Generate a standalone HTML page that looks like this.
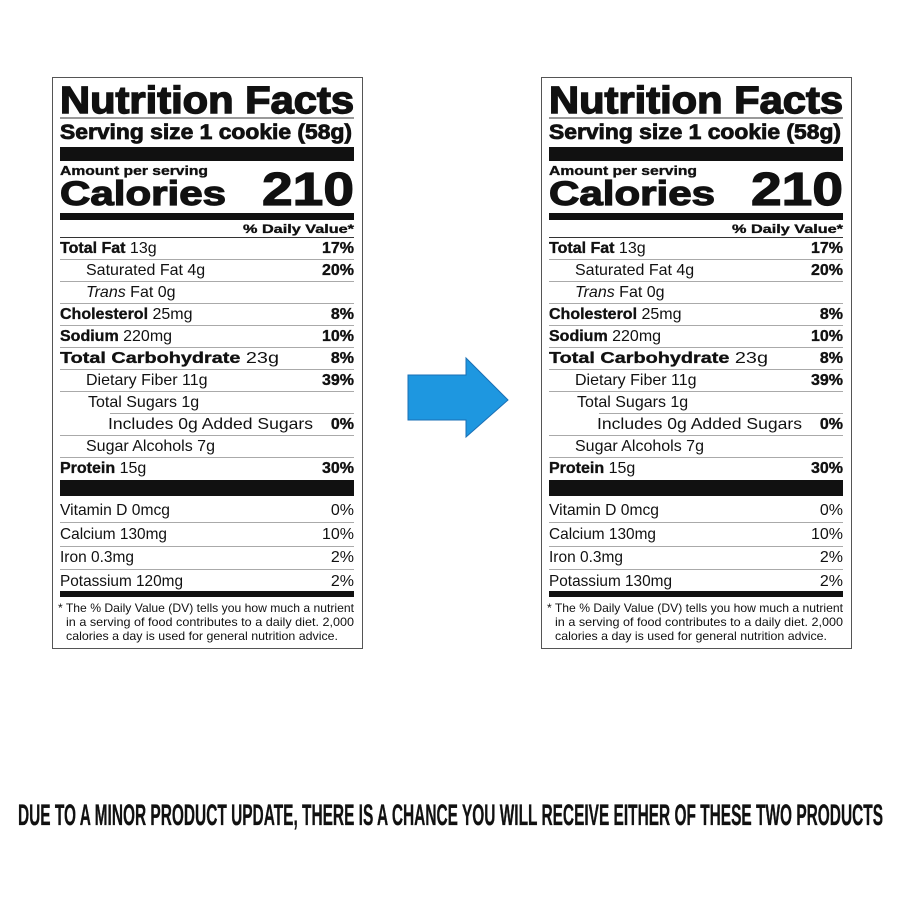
<!DOCTYPE html>
<html><head><meta charset="utf-8"><style>
html,body{margin:0;padding:0;background:#fff;width:900px;height:900px;overflow:hidden}
svg{display:block}
text{font-family:"Liberation Sans",Arial,sans-serif;fill:#111}
.b{font-weight:bold;stroke:#111;stroke-width:0.35px}
.h1{stroke:#111;stroke-width:1.4px}
.h2{stroke:#111;stroke-width:0.8px}
.h3{stroke:#111;stroke-width:1.2px}
.r{font-size:16px}
.vit{font-size:16px}
.fn{font-size:12px}
</style></head><body>
<svg width="900" height="900" viewBox="0 0 900 900">
<rect width="900" height="900" fill="#fff"/>

<g>
<rect x="52.5" y="77.5" width="310" height="571" fill="#fff" stroke="#555" stroke-width="1"/>
<text x="60" y="113" class="b h1" font-size="38" textLength="294" lengthAdjust="spacingAndGlyphs">Nutrition Facts</text>
<rect x="60" y="117.5" width="294" height="1" fill="#333"/>
<text x="60" y="139" class="b h2" font-size="21" textLength="292" lengthAdjust="spacingAndGlyphs">Serving size 1 cookie (58g)</text>
<rect x="60" y="147" width="294" height="14" fill="#111"/>
<text x="60" y="175" class="b" font-size="13" textLength="148" lengthAdjust="spacingAndGlyphs">Amount per serving</text>
<text x="60" y="205" class="b h3" font-size="34" textLength="166" lengthAdjust="spacingAndGlyphs">Calories</text>
<text x="354" y="205" class="b h3" font-size="46" text-anchor="end" textLength="92" lengthAdjust="spacingAndGlyphs">210</text>
<rect x="60" y="213" width="294" height="7" fill="#111"/>
<text x="354" y="233" class="b" font-size="12" text-anchor="end" textLength="111" lengthAdjust="spacingAndGlyphs">% Daily Value*</text>
<rect x="60" y="237" width="294" height="1" fill="#333"/>
<g fill="#aaa">
<rect x="60" y="259" width="294" height="1"/><rect x="60" y="281" width="294" height="1"/><rect x="60" y="303" width="294" height="1"/><rect x="60" y="325" width="294" height="1"/><rect x="60" y="347" width="294" height="1"/><rect x="60" y="369" width="294" height="1"/><rect x="60" y="391" width="294" height="1"/><rect x="110" y="413" width="244" height="1"/><rect x="60" y="435" width="294" height="1"/><rect x="60" y="457" width="294" height="1"/>
</g>
<text x="60" y="253" class="r"><tspan class="b">Total Fat</tspan> 13g</text><text x="354" y="253" class="r b" text-anchor="end">17%</text>
<text x="86" y="275" class="r">Saturated Fat 4g</text><text x="354" y="275" class="r b" text-anchor="end">20%</text>
<text x="86" y="297" class="r"><tspan font-style="italic">Trans</tspan> Fat 0g</text>
<text x="60" y="319" class="r"><tspan class="b">Cholesterol</tspan> 25mg</text><text x="354" y="319" class="r b" text-anchor="end">8%</text>
<text x="60" y="341" class="r"><tspan class="b">Sodium</tspan> 220mg</text><text x="354" y="341" class="r b" text-anchor="end">10%</text>
<text x="60" y="363" class="r" textLength="219" lengthAdjust="spacingAndGlyphs"><tspan class="b">Total Carbohydrate</tspan> 23g</text><text x="354" y="363" class="r b" text-anchor="end">8%</text>
<text x="86" y="385" class="r">Dietary Fiber 11g</text><text x="354" y="385" class="r b" text-anchor="end">39%</text>
<text x="88" y="407" class="r">Total Sugars 1g</text>
<text x="108" y="429" class="r" textLength="205" lengthAdjust="spacingAndGlyphs">Includes 0g Added Sugars</text><text x="354" y="429" class="r b" text-anchor="end">0%</text>
<text x="86" y="451" class="r">Sugar Alcohols 7g</text>
<text x="60" y="473" class="r"><tspan class="b">Protein</tspan> 15g</text><text x="354" y="473" class="r b" text-anchor="end">30%</text>
<rect x="60" y="480" width="294" height="16" fill="#111"/>
<g fill="#aaa"><rect x="60" y="522" width="294" height="1"/><rect x="60" y="546" width="294" height="1"/><rect x="60" y="569" width="294" height="1"/></g>
<text x="60" y="515" class="vit" textLength="110" lengthAdjust="spacingAndGlyphs">Vitamin D 0mcg</text><text x="354" y="515" class="vit" text-anchor="end">0%</text>
<text x="60" y="539" class="vit" textLength="107" lengthAdjust="spacingAndGlyphs">Calcium 130mg</text><text x="354" y="539" class="vit" text-anchor="end">10%</text>
<text x="60" y="562" class="vit" textLength="74" lengthAdjust="spacingAndGlyphs">Iron 0.3mg</text><text x="354" y="562" class="vit" text-anchor="end">2%</text>
<text x="60" y="586" class="vit" textLength="123" lengthAdjust="spacingAndGlyphs">Potassium 120mg</text><text x="354" y="586" class="vit" text-anchor="end">2%</text>
<rect x="60" y="591" width="294" height="6" fill="#111"/>
<text x="58" y="612" class="fn" textLength="296" lengthAdjust="spacingAndGlyphs">* The % Daily Value (DV) tells you how much a nutrient</text>
<text x="66" y="626" class="fn" textLength="288" lengthAdjust="spacingAndGlyphs">in a serving of food contributes to a daily diet. 2,000</text>
<text x="66" y="640" class="fn" textLength="272" lengthAdjust="spacingAndGlyphs">calories a day is used for general nutrition advice.</text>
</g>

<polygon points="408,375 466,375 466,358 508,400 466,437 466,420 408,420" fill="#1e97e0" stroke="#1a6fb5" stroke-width="1"/>

<g transform="translate(489,0)">
<rect x="52.5" y="77.5" width="310" height="571" fill="#fff" stroke="#555" stroke-width="1"/>
<text x="60" y="113" class="b h1" font-size="38" textLength="294" lengthAdjust="spacingAndGlyphs">Nutrition Facts</text>
<rect x="60" y="117.5" width="294" height="1" fill="#333"/>
<text x="60" y="139" class="b h2" font-size="21" textLength="292" lengthAdjust="spacingAndGlyphs">Serving size 1 cookie (58g)</text>
<rect x="60" y="147" width="294" height="14" fill="#111"/>
<text x="60" y="175" class="b" font-size="13" textLength="148" lengthAdjust="spacingAndGlyphs">Amount per serving</text>
<text x="60" y="205" class="b h3" font-size="34" textLength="166" lengthAdjust="spacingAndGlyphs">Calories</text>
<text x="354" y="205" class="b h3" font-size="46" text-anchor="end" textLength="92" lengthAdjust="spacingAndGlyphs">210</text>
<rect x="60" y="213" width="294" height="7" fill="#111"/>
<text x="354" y="233" class="b" font-size="12" text-anchor="end" textLength="111" lengthAdjust="spacingAndGlyphs">% Daily Value*</text>
<rect x="60" y="237" width="294" height="1" fill="#333"/>
<g fill="#aaa">
<rect x="60" y="259" width="294" height="1"/><rect x="60" y="281" width="294" height="1"/><rect x="60" y="303" width="294" height="1"/><rect x="60" y="325" width="294" height="1"/><rect x="60" y="347" width="294" height="1"/><rect x="60" y="369" width="294" height="1"/><rect x="60" y="391" width="294" height="1"/><rect x="110" y="413" width="244" height="1"/><rect x="60" y="435" width="294" height="1"/><rect x="60" y="457" width="294" height="1"/>
</g>
<text x="60" y="253" class="r"><tspan class="b">Total Fat</tspan> 13g</text><text x="354" y="253" class="r b" text-anchor="end">17%</text>
<text x="86" y="275" class="r">Saturated Fat 4g</text><text x="354" y="275" class="r b" text-anchor="end">20%</text>
<text x="86" y="297" class="r"><tspan font-style="italic">Trans</tspan> Fat 0g</text>
<text x="60" y="319" class="r"><tspan class="b">Cholesterol</tspan> 25mg</text><text x="354" y="319" class="r b" text-anchor="end">8%</text>
<text x="60" y="341" class="r"><tspan class="b">Sodium</tspan> 220mg</text><text x="354" y="341" class="r b" text-anchor="end">10%</text>
<text x="60" y="363" class="r" textLength="219" lengthAdjust="spacingAndGlyphs"><tspan class="b">Total Carbohydrate</tspan> 23g</text><text x="354" y="363" class="r b" text-anchor="end">8%</text>
<text x="86" y="385" class="r">Dietary Fiber 11g</text><text x="354" y="385" class="r b" text-anchor="end">39%</text>
<text x="88" y="407" class="r">Total Sugars 1g</text>
<text x="108" y="429" class="r" textLength="205" lengthAdjust="spacingAndGlyphs">Includes 0g Added Sugars</text><text x="354" y="429" class="r b" text-anchor="end">0%</text>
<text x="86" y="451" class="r">Sugar Alcohols 7g</text>
<text x="60" y="473" class="r"><tspan class="b">Protein</tspan> 15g</text><text x="354" y="473" class="r b" text-anchor="end">30%</text>
<rect x="60" y="480" width="294" height="16" fill="#111"/>
<g fill="#aaa"><rect x="60" y="522" width="294" height="1"/><rect x="60" y="546" width="294" height="1"/><rect x="60" y="569" width="294" height="1"/></g>
<text x="60" y="515" class="vit" textLength="110" lengthAdjust="spacingAndGlyphs">Vitamin D 0mcg</text><text x="354" y="515" class="vit" text-anchor="end">0%</text>
<text x="60" y="539" class="vit" textLength="107" lengthAdjust="spacingAndGlyphs">Calcium 130mg</text><text x="354" y="539" class="vit" text-anchor="end">10%</text>
<text x="60" y="562" class="vit" textLength="74" lengthAdjust="spacingAndGlyphs">Iron 0.3mg</text><text x="354" y="562" class="vit" text-anchor="end">2%</text>
<text x="60" y="586" class="vit" textLength="123" lengthAdjust="spacingAndGlyphs">Potassium 130mg</text><text x="354" y="586" class="vit" text-anchor="end">2%</text>
<rect x="60" y="591" width="294" height="6" fill="#111"/>
<text x="58" y="612" class="fn" textLength="296" lengthAdjust="spacingAndGlyphs">* The % Daily Value (DV) tells you how much a nutrient</text>
<text x="66" y="626" class="fn" textLength="288" lengthAdjust="spacingAndGlyphs">in a serving of food contributes to a daily diet. 2,000</text>
<text x="66" y="640" class="fn" textLength="272" lengthAdjust="spacingAndGlyphs">calories a day is used for general nutrition advice.</text>
</g>

<text x="18" y="825" class="b" font-size="30" stroke-width="0.6" textLength="865" lengthAdjust="spacingAndGlyphs">DUE TO A MINOR PRODUCT UPDATE, THERE IS A CHANCE YOU WILL RECEIVE EITHER OF THESE TWO PRODUCTS</text>
</svg>
</body></html>
